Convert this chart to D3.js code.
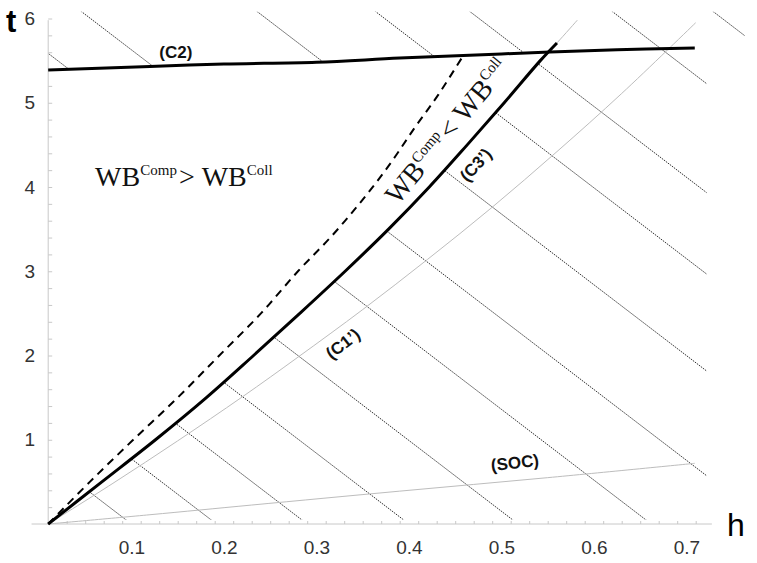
<!DOCTYPE html>
<html>
<head>
<meta charset="utf-8">
<script src="https://cdn.jsdelivr.net/npm/d3@7"></script>
<style>
  body { margin: 0; background: #fff; }
  svg { display: block; }
  .minor line { stroke: #c8c8c8; }
  .minor path, .labels path { display: none; }
  .curve-label { font-family: "Liberation Sans", Arial, sans-serif; font-size: 17px; font-weight: bold; fill: #111; }
  .wb { font-family: "Liberation Serif", "Times New Roman", serif; fill: #111; }
</style>
</head>
<body>
<div id="chart"></div>
<script>
var width = 757,
    height = 563;

// (C2) : t as a function of h
var c2H = [0.01, 0.12, 0.2, 0.3, 0.39, 0.5, 0.625, 0.709];
var c2T = [5.39, 5.43, 5.46, 5.48, 5.53, 5.58, 5.63, 5.65];

// (C3') : h as a function of t (thick up to 5.71, grey above)
var c3T = [0, 0.5, 1, 1.5, 2, 2.5, 3, 3.5, 4, 4.5, 5, 5.5, 5.71, 5.98];
var c3H = [0.01, 0.068, 0.126, 0.181, 0.232, 0.282, 0.331, 0.378, 0.422, 0.463, 0.503, 0.542, 0.56, 0.582];
var c3Cut = 5.71;

// dashed curve
var dashT = [0, 0.5, 1, 1.5, 2, 2.5, 3, 3.4, 3.81, 4.25, 4.7, 5.1, 5.53];
var dashH = [0.01, 0.055, 0.102, 0.15, 0.195, 0.24, 0.28, 0.315, 0.347, 0.378, 0.406, 0.432, 0.457];

// (C1')
var c1H = [0.01, 0.08, 0.15, 0.22, 0.28, 0.35, 0.42, 0.49, 0.56, 0.63, 0.71];
var c1T = [0, 0.483, 0.987, 1.51, 1.98, 2.545, 3.14, 3.76, 4.42, 5.11, 5.95];

// (SOC)
var socH = [0.01, 0.12, 0.23, 0.39, 0.55, 0.709];
var socT = [0, 0.11, 0.225, 0.39, 0.55, 0.72];

// hatching: h where each line meets t = 0, and common slope -dt/dh
var hatchLowerH0 = [0.1, 0.192, 0.29, 0.4, 0.518, 0.662, 0.79, 0.938, 1.075, 1.19, 1.344];
var hatchUpperH0 = [0.675, 0.77, 0.96, 1.088, 1.19, 1.344, 1.453];
var hatchSlope = 8.4;

var xTicks = d3.range(0, 35).map(function(i) { return 0.03 + 0.02 * i; });
var xLabels = [0.1, 0.2, 0.3, 0.4, 0.5, 0.6, 0.7];
var yTicks = d3.range(1, 31).map(function(i) { return 0.2 * i; });
var yLabels = [1, 2, 3, 4, 5, 6];

var hMin = 0.01, hAxisLo = -0.008, hAxisHi = 0.7275,
    hLowerMax = 0.722, hUpperMax = 0.763,
    tHatchBottom = 0.05, tHatchTop = 6.08, tAxisTop = 5.98;

var x = d3.scaleLinear().domain([0.01, 0.72]).range([48.2, 48.2 + 0.71 * 925]);
var y = d3.scaleLinear().domain([0, 6]).range([524, 18.5]);

var zip = function(a, b) { return a.map(function(v, i) { return [v, b[i]]; }); };
var c2 = zip(c2H, c2T),
    c3 = zip(c3H, c3T),
    dash = zip(dashH, dashT),
    c1 = zip(c1H, c1T),
    soc = zip(socH, socT);

var line = d3.line()
  .x(function(d) { return x(d[0]); })
  .y(function(d) { return y(d[1]); })
  .curve(d3.curveCatmullRom);

var poly = d3.line()
  .x(function(d) { return x(d[0]); })
  .y(function(d) { return y(d[1]); });

var svg = d3.select("#chart").append("svg")
  .attr("width", width)
  .attr("height", height);

var defs = svg.append("defs");

// right of (C3')
defs.append("clipPath").attr("id", "rightC3")
  .append("path")
  .attr("d", poly(c3.concat([[hLowerMax, tAxisTop], [hLowerMax, tHatchBottom], [hMin, tHatchBottom]])) + "Z");

// below (C2)
defs.append("clipPath").attr("id", "belowC2")
  .append("path")
  .attr("d", poly(c2.concat([[hLowerMax, c2T[c2T.length - 1]], [hLowerMax, 0], [hMin, 0]])) + "Z");

// above (C2)
defs.append("clipPath").attr("id", "aboveC2")
  .append("path")
  .attr("d", poly([[hMin, tHatchTop]].concat(c2, [[hUpperMax, c2T[c2T.length - 1]], [hUpperMax, tHatchTop]])) + "Z");

function hatchSegs(h0s) {
  return h0s.map(function(h0) {
    return [[h0, 0], [h0 - 6.3 / hatchSlope, 6.3]];
  });
}

function drawHatch(g, h0s) {
  g.selectAll("path")
    .data(hatchSegs(h0s))
    .enter().append("path")
    .attr("d", poly)
    .attr("fill", "none")
    .attr("stroke", "#333")
    .attr("stroke-width", 1)
    .attr("stroke-dasharray", "1.5,1");
}

svg.append("g").attr("clip-path", "url(#belowC2)")
  .append("g").attr("clip-path", "url(#rightC3)")
  .call(drawHatch, hatchLowerH0);
svg.append("g").attr("clip-path", "url(#aboveC2)")
  .call(drawHatch, hatchUpperH0);

// axes
svg.append("line")
  .attr("x1", x(hAxisLo)).attr("x2", x(hAxisHi))
  .attr("y1", y(0)).attr("y2", y(0))
  .attr("stroke", "#c8c8c8");
svg.append("line")
  .attr("x1", x(hMin)).attr("x2", x(hMin))
  .attr("y1", y(0)).attr("y2", y(tAxisTop))
  .attr("stroke", "#c8c8c8");

svg.append("g").attr("class", "minor")
  .attr("transform", "translate(0," + y(0) + ")")
  .call(d3.axisTop(x).tickValues(xTicks).tickSize(3).tickFormat(""));
svg.append("g").attr("class", "minor")
  .attr("transform", "translate(" + x(hMin) + ",0)")
  .call(d3.axisRight(y).tickValues(yTicks).tickSize(4).tickFormat(""));

var xl = svg.append("g").attr("class", "labels")
  .attr("transform", "translate(0," + y(0) + ")")
  .call(d3.axisBottom(x).tickValues(xLabels).tickSize(0).tickPadding(17).tickFormat(d3.format(".1f")));
var yl = svg.append("g").attr("class", "labels")
  .attr("transform", "translate(" + x(hMin) + ",0)")
  .call(d3.axisLeft(y).tickValues(yLabels).tickSize(0).tickPadding(13).tickFormat(d3.format("d")));
[xl, yl].forEach(function(g) {
  g.attr("font-family", "'Liberation Sans', Arial, sans-serif")
    .attr("font-size", 19)
    .selectAll("text").attr("fill", "#333");
});

svg.append("text")
  .attr("x", 6).attr("y", 32)
  .style("font", "bold 31px 'Liberation Sans', Arial, sans-serif")
  .text("t");
svg.append("text")
  .attr("x", 727).attr("y", 536)
  .style("font", "32px 'Liberation Sans', Arial, sans-serif")
  .text("h");

// light grey curves
[c1, soc, c3].forEach(function(d) {
  svg.append("path")
    .attr("d", line(d))
    .attr("fill", "none")
    .attr("stroke", "#bdbdbd")
    .attr("stroke-width", 1);
});

svg.append("path")
  .attr("d", line(dash))
  .attr("fill", "none")
  .attr("stroke", "#000")
  .attr("stroke-width", 2)
  .attr("stroke-dasharray", "8,6");

svg.append("path")
  .attr("d", line(c3.filter(function(d) { return d[1] <= c3Cut; })))
  .attr("fill", "none")
  .attr("stroke", "#000")
  .attr("stroke-width", 3);

svg.append("path")
  .attr("d", line(c2))
  .attr("fill", "none")
  .attr("stroke", "#000")
  .attr("stroke-width", 3);

// curve labels
function curveLabel(txt, h, t, angle) {
  svg.append("text")
    .attr("class", "curve-label")
    .attr("text-anchor", "middle")
    .attr("dominant-baseline", "central")
    .attr("transform", "translate(" + x(h) + "," + y(t) + ") rotate(" + angle + ")")
    .text(txt);
}
curveLabel("(C2)", 0.148, 5.6, 0);
curveLabel("(C3\u2019)", 0.4725, 4.26, -48);
curveLabel("(C1\u2019)", 0.3288, 2.136, -38);
curveLabel("(SOC)", 0.5146, 0.724, -6);

function wbText(sign, h, t, angle, anchor) {
  var txt = svg.append("text")
    .attr("class", "wb")
    .attr("text-anchor", anchor)
    .attr("transform", "translate(" + x(h) + "," + y(t) + ") rotate(" + angle + ")");
  txt.append("tspan").style("font-size", "28px").text("WB");
  txt.append("tspan").style("font-size", "15px").attr("dy", -11).text("Comp");
  txt.append("tspan").style("font-size", "28px").attr("dy", 11).attr("dx", 2).text(sign);
  txt.append("tspan").style("font-size", "28px").attr("dx", 7).text("WB");
  txt.append("tspan").style("font-size", "15px").attr("dy", -11).text("Coll");
}
wbText(">", 0.0607, 4.01, 0, "start");
wbText("<", 0.449, 4.59, -50.5, "middle");
</script>
</body>
</html>
